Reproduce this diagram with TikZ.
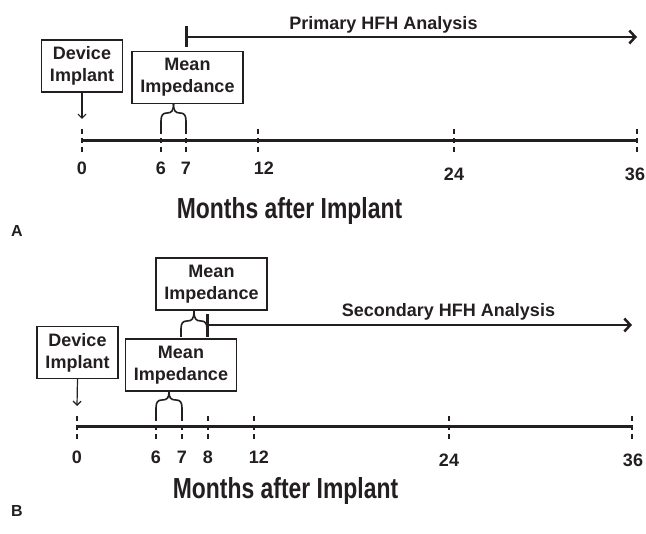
\documentclass[tikz,border=0pt]{standalone}
\usepackage{fontspec}
\setmainfont{Liberation Sans}
\newfontfamily\narrowsans[FakeStretch=0.79]{Liberation Sans}
\usetikzlibrary{arrows.meta}
\definecolor{ink}{HTML}{231F20}

% curly brace under a box: left x, right x, foot y, tip y
\newcommand{\meanbrace}[4]{%
  \pgfmathsetmacro{\bmid}{(#1+#2)/2}
  \draw[brace line] (#1,#3) -- (#1,#3-8) .. controls (#1,#3-14) and (#1+2,#3-16) .. (#1+6,#3-16)
    .. controls (\bmid-2,#3-16) and (\bmid,#3-18) .. (\bmid,#4);
  \draw[brace line] (#2,#3) -- (#2,#3-8) .. controls (#2,#3-14) and (#2-2,#3-16) .. (#2-6,#3-16)
    .. controls (\bmid+2,#3-16) and (\bmid,#3-18) .. (\bmid,#4);
}

\begin{document}
\begin{tikzpicture}[x=1pt, y=-1pt, color=ink,
  box/.style={draw, line width=1.3pt, align=center, inner xsep=8.5pt, inner ysep=0pt,
    minimum height=52pt, font=\fontsize{18}{22}\selectfont\bfseries},
  num/.style={font=\fontsize{18}{20}\selectfont\bfseries, inner sep=0pt},
  title/.style={font=\fontsize{29}{32}\narrowsans\bfseries, inner sep=0pt, anchor=base},
  panel/.style={font=\fontsize{16}{18}\selectfont\bfseries, inner sep=0pt, anchor=base},
  label/.style={font=\fontsize{18}{20}\selectfont\bfseries, inner sep=0pt, anchor=base},
  axis/.style={line width=3pt},
  tick/.style={line width=2pt, dash pattern=on 5pt off 4pt},
  implant/.style={line width=1.2pt, -{Straight Barb[length=4pt,width=8pt]}},
  analysis/.style={line width=2.5pt, -{Straight Barb[length=6pt,width=13pt]}},
  bar/.style={line width=3pt},
  brace line/.style={line width=1.6pt},
]
\useasboundingbox (0,0) rectangle (646,534);

% ---- panel A ----
\coordinate (a0) at (82,141);
\coordinate (a36) at (637,141);
\draw[axis] (a0) -- (a36);
\foreach \x/\lx/\ly/\lab in {82/82/168/0, 161/161/168/6, 186/186/168/7, 258/264/168/12,
    454/454/174/24, 637/635/174/36}{
  \draw[tick] (\x,129) -- (\x,153);
  \node[num] (tA\lab) at (\lx,\ly) {\lab};
}
\node[box] (devA) at (82,66) {Device\\Implant};
\coordinate (tipA) at (82,119);
\draw[implant] (devA.south) -- (tipA);
\node[box] (meanA) at (187.5,77.5) {Mean\\Impedance};
\meanbrace{161}{186}{129}{104}
\coordinate (hfhA) at (186,37);
\coordinate (endA) at (637,37);
\draw[analysis] (hfhA) -- (endA);
\draw[bar] (hfhA) ++(0,-11) -- ++(0,21);
\node[label] (primA) at (383.5,29.5) {Primary HFH Analysis};
\node[title] (monA) at (289.5,218.5) {Months after Implant};
\node[panel] (pA) at (17,237) {A};

% ---- panel B ----
\coordinate (b0) at (77,427);
\coordinate (b36) at (632,427);
\draw[axis] (b0) -- (b36);
\foreach \x/\lx/\ly/\lab in {77/77/457/0, 156/156/457/6, 182/182/457/7, 208/208/457/8,
    254/259/457/12, 449/449/460/24, 632/633/460/36}{
  \draw[tick] (\x,416) -- (\x,440);
  \node[num] (tB\lab) at (\lx,\ly) {\lab};
}
\node[box] (devB) at (77.5,352.5) {Device\\Implant};
\coordinate (tipB) at (77,406);
\draw[implant] (devB.south) -- (tipB);
\node[box] (meanB) at (181,365) {Mean\\Impedance};
\meanbrace{156}{182}{416}{392}
\node[box] (meanC) at (211.5,284) {Mean\\Impedance};
\meanbrace{181}{207}{337}{311}
\coordinate (hfhB) at (207,325);
\coordinate (endB) at (632,325);
\draw[analysis] (hfhB) -- (endB);
\draw[bar] (hfhB) ++(0,-11) -- ++(0,23);
\node[label] (secB) at (448.5,317) {Secondary HFH Analysis};
\node[title] (monB) at (285.5,499) {Months after Implant};
\node[panel] (pB) at (17,517) {B};
\end{tikzpicture}
\end{document}
